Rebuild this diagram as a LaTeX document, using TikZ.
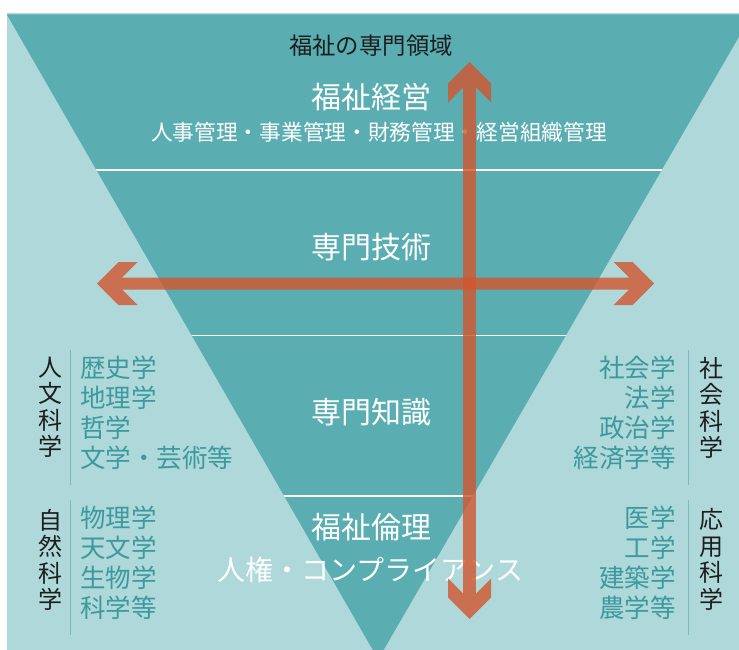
\documentclass[tikz,border=0pt]{standalone}
\usepackage{fontspec}
\setmainfont{Noto Sans CJK JP}
\definecolor{lightbg}{HTML}{AED8DA}
\definecolor{darkbg}{HTML}{5AAEB2}
\definecolor{itemc}{HTML}{3C9A9E}
\definecolor{headc}{HTML}{1E1E1E}
\definecolor{linec}{HTML}{7DBABD}
\definecolor{arrowc}{HTML}{D2552D}
\tikzset{
  bigtext/.style={text=white, font=\fontsize{30}{30}\selectfont, inner sep=0pt},
  subtext/.style={text=white, font=\fontsize{21.7}{21.7}\selectfont, inner sep=0pt},
  itemtext/.style={text=itemc, font=\fontsize{25.5}{25.5}\selectfont, inner sep=0pt},
  vhead/.style={text=headc, font=\fontsize{24}{26.5}\selectfont, align=center, inner sep=0pt},
  divider/.style={draw=linec, line width=0.8pt},
  band/.style={draw=white, line width=1.8pt},
  arrowshape/.style={fill=arrowc, fill opacity=0.8},
}
\begin{document}
\begin{tikzpicture}[x=1pt,y=-1pt]
\useasboundingbox (0,0) rectangle (739,650);
% background
\fill[white] (0,0) rectangle (739,650);
\fill[lightbg] (6.7,13.3) rectangle (739,650);
\begin{scope}
  \clip (6.7,13.3) rectangle (739,650);
  \fill[darkbg] (6.7,14.3) -- (752,14.3) -- (378.2,659.3) -- cycle;
  \clip (6.7,14.3) -- (752,14.3) -- (378.2,659.3) -- cycle;
  \draw[band] (0,170) -- (739,170);
  \draw[band] (0,335.5) -- (739,335.5);
  \draw[band] (0,495.7) -- (739,495.7);
\end{scope}
% title texts
\node[text=headc, font=\fontsize{23.4}{23.4}\selectfont, inner sep=0pt] (title) at (371,45.5) {福祉の専門領域};
\node[bigtext] (keiei) at (371,97.5) {福祉経営};
\node[subtext] (keieisub) at (379,132) {人事管理・事業管理・財務管理・経営組織管理};
\node[bigtext] (gijutsu) at (371.5,247) {専門技術};
\node[bigtext] (chishiki) at (371.5,412) {専門知識};
\node[bigtext] (rinri) at (371,527.5) {福祉倫理};
\node[text=white, font=\fontsize{28}{28}\selectfont, inner sep=0pt] (jinken) at (370.5,570) {人権・コンプライアンス};
% left column
\node[vhead] (jinbun) at (50,407.5) {人\\文\\科\\学};
\node[vhead] (shizen) at (50,560) {自\\然\\科\\学};
\draw[divider] (70.5,350) -- (70.5,485);
\draw[divider] (70.5,500) -- (70.5,635);
\node[itemtext, anchor=west] (l1) at (80,367.5) {歴史学};
\node[itemtext, anchor=west] (l2) at (80,397.5) {地理学};
\node[itemtext, anchor=west] (l3) at (80,427.5) {哲学};
\node[itemtext, anchor=west] (l4) at (80,457.5) {文学・芸術等};
\node[itemtext, anchor=west] (l5) at (80,517.5) {物理学};
\node[itemtext, anchor=west] (l6) at (80,547.5) {天文学};
\node[itemtext, anchor=west] (l7) at (80,577.5) {生物学};
\node[itemtext, anchor=west] (l8) at (80,607.5) {科学等};
% right column
\node[vhead] (shakai) at (711,408) {社\\会\\科\\学};
\node[vhead] (oyo) at (711,559.5) {応\\用\\科\\学};
\draw[divider] (688,350) -- (688,485);
\draw[divider] (688,500) -- (688,635);
\node[itemtext, anchor=east] (r1) at (676,367.5) {社会学};
\node[itemtext, anchor=east] (r2) at (676,397.5) {法学};
\node[itemtext, anchor=east] (r3) at (676,427.5) {政治学};
\node[itemtext, anchor=east] (r4) at (676,457.5) {経済学等};
\node[itemtext, anchor=east] (r5) at (676,517.5) {医学};
\node[itemtext, anchor=east] (r6) at (676,547.5) {工学};
\node[itemtext, anchor=east] (r7) at (676,577.5) {建築学};
\node[itemtext, anchor=east] (r8) at (676,607.5) {農学等};
% horizontal double arrow
\fill[arrowshape] (97,283.5) -- (118.5,262) -- (137.5,262) -- (122,277.5)
  -- (629,277.5) -- (613.5,262) -- (632.5,262) -- (654,283.5)
  -- (632.5,305) -- (613.5,305) -- (629,289.5)
  -- (122,289.5) -- (137.5,305) -- (118.5,305) -- cycle;
% vertical double arrow
\fill[arrowshape] (469.5,62) -- (491,83.5) -- (491,102.5) -- (475.8,87.3)
  -- (475.8,593.7) -- (491,578.5) -- (491,597.5) -- (469.5,619)
  -- (448,597.5) -- (448,578.5) -- (463.2,593.7)
  -- (463.2,87.3) -- (448,102.5) -- (448,83.5) -- cycle;
\end{tikzpicture}
\end{document}
